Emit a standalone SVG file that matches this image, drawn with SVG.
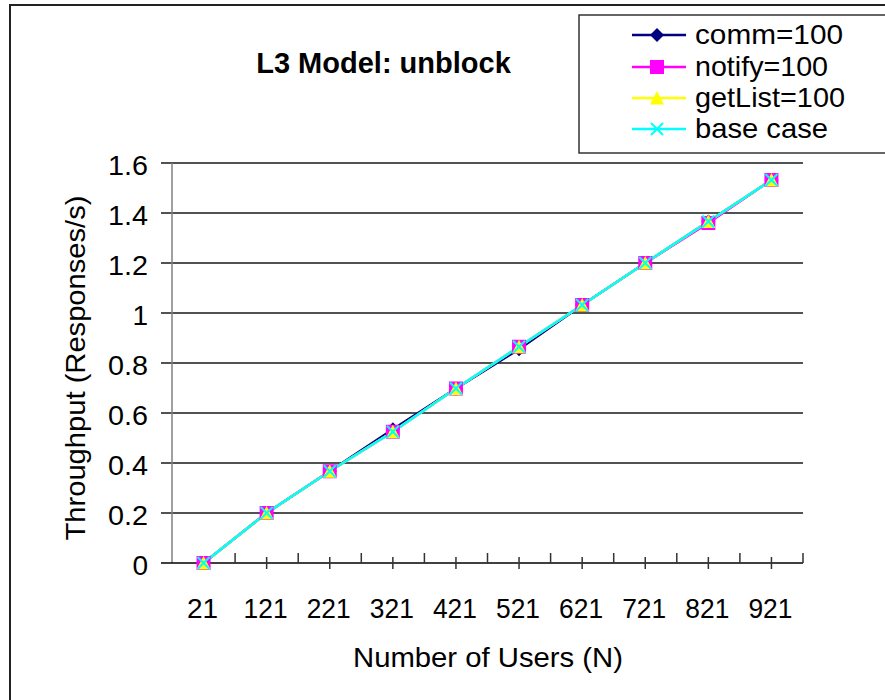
<svg xmlns="http://www.w3.org/2000/svg" xmlns:xlink="http://www.w3.org/1999/xlink" width="885" height="700" viewBox="0 0 885 700">
  <style>
    text { font-family: "Liberation Sans", Arial, sans-serif; fill: #000; }
    .title { font-size: 29px; font-weight: bold; text-anchor: middle; }
    .tick { font-size: 28px; }
    .ytick { text-anchor: end; }
    .xtick { text-anchor: middle; }
    .axis-title { font-size: 28px; text-anchor: middle; }
    .legend-text { font-size: 28px; }
    .grid { stroke: #1a1a1a; stroke-width: 1.5; fill: none; }
    .axis-x { stroke: #000; stroke-width: 1.5; fill: none; }
    .axis-y { stroke: #808080; stroke-width: 1.5; fill: none; }
    .tickmark { stroke: #333; stroke-width: 1.5; fill: none; }
    .s-comm { stroke: #000080; stroke-width: 2.5; fill: none; }
    .s-notify { stroke: #FF00FF; stroke-width: 2.5; fill: none; }
    .s-getlist { stroke: #FFFF00; stroke-width: 2.5; fill: none; }
    .s-base { stroke: #00FFFF; stroke-width: 2.5; fill: none; }
  </style>
  <defs>
    <polygon id="mk-diamond" points="0,-7 7,0 0,7 -7,0" fill="#000080"/>
    <rect id="mk-square" x="-7" y="-7" width="14" height="14" fill="#FF00FF"/>
    <polygon id="mk-triangle" points="0,-7 7,6.5 -7,6.5" fill="#FFFF00"/>
    <path id="mk-cross" d="M-6,-6 L6,6 M6,-6 L-6,6" stroke="#00FFFF" stroke-width="2" fill="none"/>
  </defs>

  <!-- page background and chart frame -->
  <rect x="0" y="0" width="885" height="700" fill="#fff"/>
  <rect id="chart-frame" x="10" y="5" width="900" height="720" fill="#fff" stroke="#222" stroke-width="2"/>

  <!-- title -->
  <g id="title">
    <text class="title" x="383.5" y="73">L3 Model: unblock</text>
  </g>

  <!-- gridlines (each extends left past the axis as its tick) -->
  <g id="gridlines">
    <path class="grid" d="M161,513H803 M161,463H803 M161,413H803 M161,363H803 M161,313H803 M161,263H803 M161,213H803 M161,163H803"/>
  </g>

  <!-- axes and tick marks -->
  <g id="axes">
    <path class="axis-y" d="M172,163V563"/>
    <path class="axis-x" d="M161,563H803"/>
    <!-- category boundary ticks (inside) -->
    <path class="tickmark" d="M235.1,553V563 M298.2,553V563 M361.3,553V563 M424.4,553V563 M487.5,553V563 M550.6,553V563 M613.7,553V563 M676.8,553V563 M739.9,553V563 M803,553V563"/>
    <!-- category centre ticks (crossing) -->
    <path class="tickmark" d="M266.65,557V569 M329.75,557V569 M392.85,557V569 M455.95,557V569 M519.05,557V569 M582.15,557V569 M645.25,557V569 M708.35,557V569 M771.45,557V569"/>
  </g>

  <!-- y axis labels -->
  <g id="y-labels">
    <text class="tick ytick" x="148" y="175" textLength="40" lengthAdjust="spacingAndGlyphs">1.6</text>
    <text class="tick ytick" x="148" y="225" textLength="40" lengthAdjust="spacingAndGlyphs">1.4</text>
    <text class="tick ytick" x="148" y="275" textLength="40" lengthAdjust="spacingAndGlyphs">1.2</text>
    <text class="tick ytick" x="148" y="325">1</text>
    <text class="tick ytick" x="148" y="375" textLength="40" lengthAdjust="spacingAndGlyphs">0.8</text>
    <text class="tick ytick" x="148" y="425" textLength="40" lengthAdjust="spacingAndGlyphs">0.6</text>
    <text class="tick ytick" x="148" y="475" textLength="40" lengthAdjust="spacingAndGlyphs">0.4</text>
    <text class="tick ytick" x="148" y="525" textLength="40" lengthAdjust="spacingAndGlyphs">0.2</text>
    <text class="tick ytick" x="148" y="575">0</text>
  </g>

  <!-- x axis labels -->
  <g id="x-labels">
    <text class="tick xtick" x="202.5" y="618">21</text>
    <text class="tick xtick" x="265.6" y="618" textLength="44" lengthAdjust="spacingAndGlyphs">121</text>
    <text class="tick xtick" x="328.7" y="618" textLength="44" lengthAdjust="spacingAndGlyphs">221</text>
    <text class="tick xtick" x="391.8" y="618" textLength="44" lengthAdjust="spacingAndGlyphs">321</text>
    <text class="tick xtick" x="454.9" y="618" textLength="44" lengthAdjust="spacingAndGlyphs">421</text>
    <text class="tick xtick" x="518.0" y="618" textLength="44" lengthAdjust="spacingAndGlyphs">521</text>
    <text class="tick xtick" x="581.1" y="618" textLength="44" lengthAdjust="spacingAndGlyphs">621</text>
    <text class="tick xtick" x="644.2" y="618" textLength="44" lengthAdjust="spacingAndGlyphs">721</text>
    <text class="tick xtick" x="707.3" y="618" textLength="44" lengthAdjust="spacingAndGlyphs">821</text>
    <text class="tick xtick" x="770.4" y="618" textLength="44" lengthAdjust="spacingAndGlyphs">921</text>
  </g>

  <!-- axis titles -->
  <g id="axis-titles">
    <text class="axis-title" x="488" y="667" textLength="270" lengthAdjust="spacingAndGlyphs">Number of Users (N)</text>
    <text class="axis-title" transform="translate(85,368) rotate(-90)" x="0" y="0" textLength="345" lengthAdjust="spacingAndGlyphs">Throughput (Responses/s)</text>
  </g>

  <!-- series lines -->
  <g id="series-lines">
    <polyline id="line-comm" class="s-comm" points="203.55,563 266.65,513 329.75,471.25 392.85,429.25 455.95,388.5 519.05,349.25 582.15,305 645.25,263 708.35,221.5 771.45,180"/>
    <polyline id="line-notify" class="s-notify" points="203.55,563 266.65,513 329.75,471.25 392.85,431.75 455.95,388.5 519.05,346.75 582.15,305 645.25,263 708.35,223 771.45,180"/>
    <polyline id="line-getlist" class="s-getlist" points="203.55,563 266.65,513 329.75,471.25 392.85,431.75 455.95,388.5 519.05,346.75 582.15,305 645.25,263 708.35,221.5 771.45,180"/>
    <polyline id="line-base" class="s-base" points="203.55,563 266.65,513 329.75,471.25 392.85,431.75 455.95,388.5 519.05,346.75 582.15,305 645.25,263 708.35,221.5 771.45,180"/>
  </g>

  <!-- series markers -->
  <g id="markers-comm">
    <use href="#mk-diamond" x="203.55" y="563"/><use href="#mk-diamond" x="266.65" y="513"/>
    <use href="#mk-diamond" x="329.75" y="471.25"/><use href="#mk-diamond" x="392.85" y="429.25"/>
    <use href="#mk-diamond" x="455.95" y="388.5"/><use href="#mk-diamond" x="519.05" y="349.25"/>
    <use href="#mk-diamond" x="582.15" y="305"/><use href="#mk-diamond" x="645.25" y="263"/>
    <use href="#mk-diamond" x="708.35" y="221.5"/><use href="#mk-diamond" x="771.45" y="180"/>
  </g>
  <g id="markers-notify">
    <use href="#mk-square" x="203.55" y="563"/><use href="#mk-square" x="266.65" y="513"/>
    <use href="#mk-square" x="329.75" y="471.25"/><use href="#mk-square" x="392.85" y="431.75"/>
    <use href="#mk-square" x="455.95" y="388.5"/><use href="#mk-square" x="519.05" y="346.75"/>
    <use href="#mk-square" x="582.15" y="305"/><use href="#mk-square" x="645.25" y="263"/>
    <use href="#mk-square" x="708.35" y="223"/><use href="#mk-square" x="771.45" y="180"/>
  </g>
  <g id="markers-getlist">
    <use href="#mk-triangle" x="203.55" y="563"/><use href="#mk-triangle" x="266.65" y="513"/>
    <use href="#mk-triangle" x="329.75" y="471.25"/><use href="#mk-triangle" x="392.85" y="431.75"/>
    <use href="#mk-triangle" x="455.95" y="388.5"/><use href="#mk-triangle" x="519.05" y="346.75"/>
    <use href="#mk-triangle" x="582.15" y="305"/><use href="#mk-triangle" x="645.25" y="263"/>
    <use href="#mk-triangle" x="708.35" y="221.5"/><use href="#mk-triangle" x="771.45" y="180"/>
  </g>
  <g id="markers-base">
    <use href="#mk-cross" x="203.55" y="563"/><use href="#mk-cross" x="266.65" y="513"/>
    <use href="#mk-cross" x="329.75" y="471.25"/><use href="#mk-cross" x="392.85" y="431.75"/>
    <use href="#mk-cross" x="455.95" y="388.5"/><use href="#mk-cross" x="519.05" y="346.75"/>
    <use href="#mk-cross" x="582.15" y="305"/><use href="#mk-cross" x="645.25" y="263"/>
    <use href="#mk-cross" x="708.35" y="221.5"/><use href="#mk-cross" x="771.45" y="180"/>
  </g>

  <!-- legend -->
  <g id="legend">
    <rect x="579" y="15" width="320" height="138" fill="#fff" stroke="#333" stroke-width="1.5"/>
    <g id="legend-comm">
      <path class="s-comm" d="M632,35H686"/>
      <use href="#mk-diamond" x="657" y="35"/>
      <text class="legend-text" x="695" y="43.5" textLength="148" lengthAdjust="spacingAndGlyphs">comm=100</text>
    </g>
    <g id="legend-notify">
      <path class="s-notify" d="M632,67H686"/>
      <use href="#mk-square" x="657" y="67"/>
      <text class="legend-text" x="695" y="75.5" textLength="133" lengthAdjust="spacingAndGlyphs">notify=100</text>
    </g>
    <g id="legend-getlist">
      <path class="s-getlist" d="M632,98H686"/>
      <use href="#mk-triangle" x="657" y="98"/>
      <text class="legend-text" x="695" y="106.5" textLength="150" lengthAdjust="spacingAndGlyphs">getList=100</text>
    </g>
    <g id="legend-base">
      <path class="s-base" d="M632,129H686"/>
      <use href="#mk-cross" x="657" y="129"/>
      <text class="legend-text" x="695" y="137.5" textLength="133" lengthAdjust="spacingAndGlyphs">base case</text>
    </g>
  </g>
</svg>
